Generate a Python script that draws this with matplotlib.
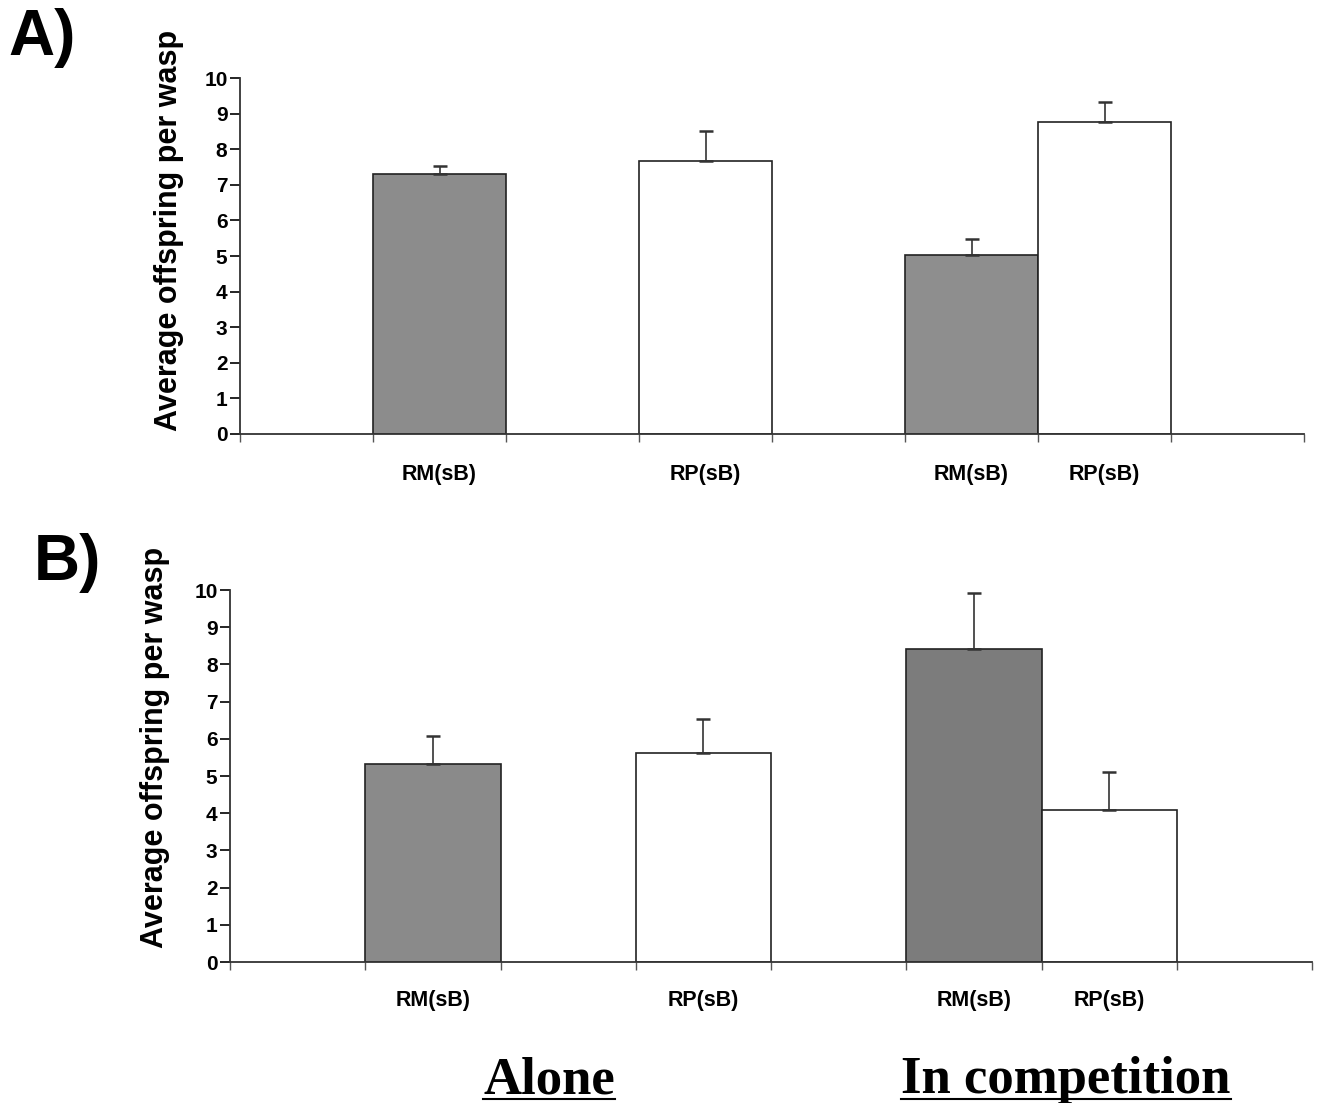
import matplotlib
matplotlib.use("Agg")
import matplotlib.pyplot as plt
from matplotlib.lines import Line2D

# ---- data ----
categories = ["RM(sB)", "RP(sB)", "RM(sB)", "RP(sB)"]
A_means = [7.30, 7.67, 5.03, 8.76]
A_err = [0.23, 0.84, 0.45, 0.57]
B_means = [5.32, 5.62, 8.41, 4.09]
B_err = [0.76, 0.91, 1.51, 1.02]
yticks = [0, 1, 2, 3, 4, 5, 6, 7, 8, 9, 10]
group_titles = ["Alone", "In competition"]
ylabel = "Average offspring per wasp"

# ---- style ----
bar_colors_A = ["#8c8c8c", "white", "#8e8e8e", "white"]
bar_colors_B = ["#8a8a8a", "white", "#7c7c7c", "white"]
slots = [1.5, 3.5, 5.5, 6.5]
W, H = 1320, 1103
fig = plt.figure(figsize=(W / 100, H / 100), dpi=100)
plt.rcParams['font.family'] = ['Liberation Sans', 'DejaVu Sans']


def make_panel(rect, means, errs, colors, xmax, label_coords, xpad):
    ax = fig.add_axes(rect)
    ax.bar(slots, means, width=1.0, color=colors, edgecolor="#222222",
           linewidth=1.2, zorder=2)
    ax.errorbar(slots, means, yerr=[[0] * len(errs), errs], fmt="none",
                ecolor="#333333", elinewidth=1.2, capsize=5, capthick=1.8,
                zorder=3)
    ax.set_xlim(0, xmax)
    ax.set_ylim(0, 10)
    ax.set_yticks(yticks)
    ax.set_yticklabels([str(t) for t in yticks], fontsize=15, fontweight="bold")
    ax.set_xticks(slots)
    ax.set_xticklabels(categories, fontsize=15.5, fontweight="bold")
    ax.set_xticks(range(0, 9), minor=True)
    ax.tick_params(axis="x", which="major", length=0, pad=xpad)
    ax.tick_params(axis="x", which="minor", length=6, width=1, direction="out",
                   color="#555555")
    ax.tick_params(axis="y", length=7, width=1.2, pad=2, direction="out")
    for s in ["top", "right"]:
        ax.spines[s].set_visible(False)
    for s in ["left", "bottom"]:
        ax.spines[s].set_linewidth(1.3)
        ax.spines[s].set_color("#333333")
    ax.set_ylabel(ylabel, fontsize=22, fontweight="bold")
    ax.yaxis.set_label_coords(*label_coords)
    return ax


axA = make_panel([240 / W, 1 - 434 / H, 1064 / W, 356 / H], A_means, A_err,
                 bar_colors_A, 8.0, (-0.053, 0.573), 21.5)
axB = make_panel([230 / W, 1 - 962 / H, 1082 / W, 372 / H], B_means, B_err,
                 bar_colors_B, 7.92, (-0.055, 0.577), 20)

fig.text(42 / W, 1 - 38 / H, "A)", fontsize=46, fontweight="bold",
         ha="center", va="center")
fig.text(67 / W, 1 - 563 / H, "B)", fontsize=46, fontweight="bold",
         ha="center", va="center")

titles = []
for txt, cx in zip(group_titles, [549, 1066]):
    t = fig.text(cx / W, 1 - 1093 / H, txt, fontsize=38, fontweight="bold",
                 family=["Liberation Serif", "DejaVu Serif"], ha="center",
                 va="baseline")
    titles.append(t)

fig.canvas.draw()
renderer = fig.canvas.get_renderer()
for t in titles:
    bb = t.get_window_extent(renderer)
    y = (1 - 1099 / H)
    fig.add_artist(Line2D([bb.x0 / W, bb.x1 / W], [y, y], color="black",
                          linewidth=1.5, transform=fig.transFigure))

fig.savefig("out.png", dpi=100)
